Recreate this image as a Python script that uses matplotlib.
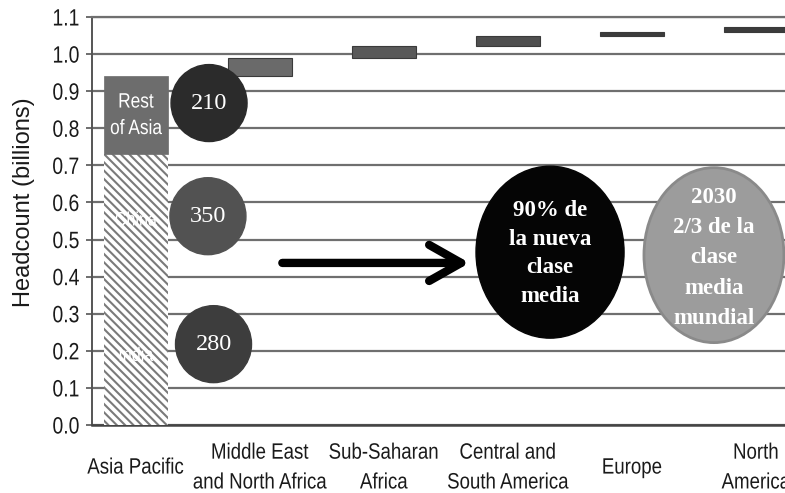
import matplotlib
matplotlib.use("Agg")
import matplotlib.pyplot as plt
import numpy as np
from matplotlib.patches import Ellipse, FancyArrowPatch, ArrowStyle
from matplotlib.patheffects import AbstractPathEffect
from matplotlib.transforms import Affine2D

# Regions on the x axis
categories = ["Asia Pacific", "Middle East\nand North Africa", "Sub-Saharan\nAfrica",
              "Central and\nSouth America", "Europe", "North\nAmerica"]

# Asia Pacific stack (billions)
asia_parts = ["India", "China", "Rest\nof Asia"]
asia_values = [0.38, 0.35, 0.21]

# Increments added by the other regions (billions), stacked on the Asia total
region_increments = [0.05, 0.032, 0.027, 0.011, 0.012]

# New middle class per Asian sub-region (millions)
bubble_values = [280, 350, 210]

yticks = [round(0.1 * i, 1) for i in range(12)]

SANS = ["Liberation Sans", "DejaVu Sans"]
SERIF = ["Liberation Serif", "DejaVu Serif"]


class Squeeze(AbstractPathEffect):
    """Draw text horizontally condensed (narrow-face look)."""

    def __init__(self, sx=0.83, anchor="center"):
        super().__init__()
        self.sx = sx
        self.anchor = anchor

    def draw_path(self, renderer, gc, tpath, affine, rgbFace=None):
        verts = affine.transform(tpath.vertices)
        if len(verts) == 0:
            return
        x0, x1 = verts[:, 0].min(), verts[:, 0].max()
        cx = {"left": x0, "center": 0.5 * (x0 + x1), "right": x1}[self.anchor]
        t = affine + Affine2D().translate(-cx, 0).scale(self.sx, 1).translate(cx, 0)
        renderer.draw_path(gc, tpath, t, rgbFace)


def narrow(anchor="center", sx=0.83):
    return [Squeeze(sx, anchor)]


plt.rcParams["hatch.linewidth"] = 1.5

fig = plt.figure(figsize=(7.85, 4.93), dpi=100)
ax = fig.add_axes([0.1172, 0.1379, 0.8828, 0.8276])

x = np.arange(len(categories))
bar_w = 0.51

# Asia Pacific stacked column
bottom = 0.0
for name, val in zip(asia_parts, asia_values):
    if name.startswith("Rest"):
        ax.bar(x[0], val, bar_w, bottom=bottom, color="#6d6d6d", edgecolor="#6d6d6d",
               linewidth=0.5, zorder=3)
        ax.text(x[0], bottom + val / 2, name, ha="center", va="center", color="white",
                fontsize=15, family=SANS, linespacing=1.5, zorder=5,
                path_effects=narrow())
    else:
        ax.bar(x[0], val, bar_w, bottom=bottom, color="white", edgecolor="#7a7a7a",
               hatch="\\\\\\\\", linewidth=0, zorder=3)
        ax.text(x[0], bottom + val / 2 - 0.005, name, ha="center", va="center",
                color="white", fontsize=14, family=SANS, zorder=5,
                path_effects=narrow())
    bottom += val

# Waterfall steps for the remaining regions
step_colors = ["#6a6a6a", "#595959", "#4f4f4f", "#3c3c3c", "#3c3c3c"]
level = sum(asia_values)
for xi, inc, c in zip(x[1:], region_increments, step_colors):
    ax.bar(xi, inc, bar_w, bottom=level, color=c, edgecolor="#3a3a3a",
           linewidth=0.8, zorder=3)
    level += inc

# Bubbles with new middle-class counts beside each Asian segment
bubble_pos = [(0.625, 0.218), (0.58, 0.563), (0.589, 0.868)]
bubble_colors = ["#3d3d3d", "#525252", "#2b2b2b"]
for (bx, by), val, c in zip(bubble_pos, bubble_values, bubble_colors):
    ax.add_patch(Ellipse((bx, by), 0.613, 0.2075, facecolor=c, edgecolor=c,
                         linewidth=1, zorder=4))
    ax.text(bx, by, str(val), ha="center", va="center", color="white",
            fontsize=17.5, family=SERIF, zorder=5)

# Arrow pointing to the highlight ellipse
arrow = FancyArrowPatch((1.18, 0.437), (2.69, 0.437),
                        arrowstyle=ArrowStyle("->", head_length=23, head_width=13),
                        mutation_scale=1, linewidth=6, color="black",
                        capstyle="round", joinstyle="round",
                        shrinkA=0, shrinkB=0, zorder=5)
ax.add_patch(arrow)

# Highlight ellipses
ax.add_patch(Ellipse((3.339, 0.466), 1.194, 0.4636, facecolor="#050505",
                     edgecolor="#050505", zorder=4))
ax.text(3.339, 0.462, "90% de\nla nueva\nclase\nmedia", ha="center", va="center",
        color="white", fontsize=16.5, fontweight="bold", family=SERIF,
        linespacing=1.48, zorder=5)

ax.add_patch(Ellipse((4.661, 0.458), 1.129, 0.4717, facecolor="#9c9c9c",
                     edgecolor="#8a8a8a", linewidth=2, zorder=4))
ax.text(4.661, 0.451, "2030\n2/3 de la\nclase\nmedia\nmundial", ha="center",
        va="center", color="white", fontsize=16.5, fontweight="bold", family=SERIF,
        linespacing=1.58, zorder=5)

# Axes styling
ax.set_xlim(-0.355, 5.234)
ax.set_ylim(0, 1.1)
ax.set_yticks(yticks)
ax.set_yticklabels([f"{v:.1f}" for v in yticks], family=SANS, fontsize=17,
                   color="#1a1a1a")
ax.set_xticks(x)
ax.set_xticklabels(categories, family=SANS, fontsize=16, color="#1a1a1a",
                   linespacing=1.55)
for lab in ax.get_xticklabels():
    lab.set_verticalalignment("center")
    lab.set_path_effects(narrow("center", 0.84))
for lab in ax.get_yticklabels():
    lab.set_path_effects(narrow("right", 0.82))
ax.tick_params(axis="x", length=0, pad=31)
ax.tick_params(axis="y", length=4, width=1.2, color="#555555", pad=5)

ax.grid(axis="y", color="#6f6f6f", linewidth=1.6, zorder=0)
ax.set_axisbelow(True)
ax.spines["right"].set_visible(False)
ax.spines["top"].set_color("#6f6f6f")
ax.spines["top"].set_linewidth(1.6)
ax.spines["left"].set_color("#555555")
ax.spines["left"].set_linewidth(1.4)
ax.spines["bottom"].set_color("#444444")
ax.spines["bottom"].set_linewidth(1.8)

ax.set_ylabel("Headcount (billions)", family=SANS, fontsize=17, color="#1a1a1a")
ax.yaxis.set_label_coords(-0.082, 0.545)

fig.savefig("out.png", dpi=100)
